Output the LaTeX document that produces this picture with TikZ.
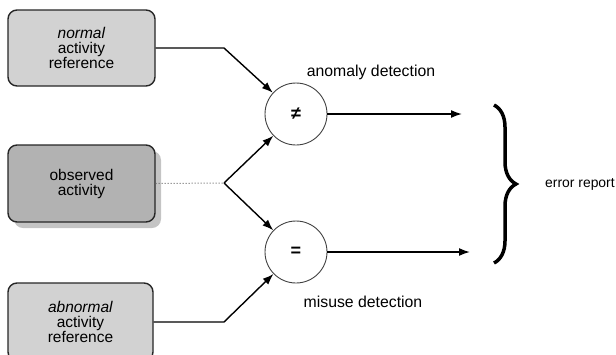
\documentclass[tikz,border=0pt]{standalone}
\usepackage{fontspec}
\setmainfont{Liberation Sans}
\usetikzlibrary{arrows.meta,decorations.pathreplacing,shadows}
\definecolor{lightbox}{HTML}{D2D2D2}
\definecolor{darkbox}{HTML}{B2B2B2}
\definecolor{shadowgray}{HTML}{C4C4C4}
\begin{document}
\begin{tikzpicture}[x=1pt,y=-1pt,
  box/.style={draw=black!85, line width=1.4pt, rounded corners=9pt,
    minimum width=147pt, minimum height=76pt, align=center, inner sep=0pt,
    font=\fontsize{15.5}{15}\selectfont},
  circ/.style={circle, draw=black!75, line width=0.9pt, minimum size=62pt,
    inner sep=0pt, font=\fontsize{18}{18}\selectfont\bfseries},
  conn/.style={line width=1.4pt, -{Latex[length=11pt,width=8pt]}},
  outarrow/.style={line width=1.6pt, -{Latex[length=11pt,width=8pt]}},
  lab/.style={font=\fontsize{15.8}{15}\selectfont, inner sep=0pt}]
\useasboundingbox (0,0) rectangle (616,354);
\begin{scope}
\clip (0,0) rectangle (616,354);
\node[box, fill=lightbox] (n1) at (81.5,48) {\textit{normal}\\activity\\reference};
\node[box, fill=darkbox, minimum height=77pt,
  drop shadow={shadow xshift=6pt, shadow yshift=-6pt, fill=shadowgray, opacity=1}]
  (n2) at (81.5,183.5) {observed\\activity};
\node[box, fill=lightbox, minimum width=145pt, minimum height=78pt] (n3) at (80.5,322)
  {\textit{abnormal}\\activity\\reference};
\end{scope}
\node[circ] (c1) at (296,114) {≠};
\node[circ] (c2) at (296,252) {=};
\coordinate (b1) at (224,48);
\coordinate (b2) at (224,183);
\coordinate (b3) at (224,322);
\draw[conn] (n1.east) -- (b1) -- (c1);
\draw[dotted, line width=1pt, black!60] (n2.east) -- (b2);
\draw[conn] (b2) -- (c1);
\draw[conn] (b2) -- (c2);
\draw[conn] (n3.east |- b3) -- (b3) -- (c2);
\coordinate (o1) at (462,114);
\coordinate (o2) at (470,252);
\draw[outarrow] (c1) -- (o1);
\draw[outarrow] (c2) -- (o2);
\node[lab] (la) at (371,72) {anomaly detection};
\node[lab] (lm) at (363,302) {misuse detection};
\coordinate (bt) at (494,105);
\coordinate (bb) at (494,263);
\draw[decorate, decoration={brace, amplitude=22pt}, line width=3.5pt] (bt) -- (bb);
\node[anchor=west, inner sep=0pt, font=\fontsize{13.9}{13}\selectfont] (err) at (545,184) {error report};
\end{tikzpicture}
\end{document}
